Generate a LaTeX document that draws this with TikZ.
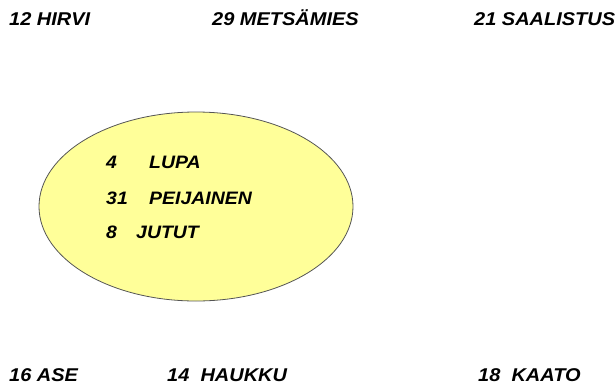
\documentclass[tikz,border=0pt]{standalone}
\usepackage{fontspec}
\setmainfont{Liberation Sans}[FakeStretch=1.08]
\usetikzlibrary{shapes.geometric}
\definecolor{ellfill}{HTML}{FFFF99}
\definecolor{ellline}{HTML}{555555}
\tikzset{
  outer/.style={anchor=base west,inner sep=0pt,font=\fontsize{18.5}{20}\selectfont\bfseries\itshape},
  inner/.style={anchor=base west,inner sep=0pt,font=\fontsize{18}{20}\selectfont\bfseries\itshape},
  blob/.style={ellipse,draw=ellline,line width=0.8pt,fill=ellfill,minimum width=314pt,minimum height=189pt,inner sep=0pt}
}
\begin{document}
\begin{tikzpicture}[x=1pt,y=-1pt]
\useasboundingbox (0,0) rectangle (616,386);
\node[blob] (ell) at (196,206.5) {};
\node[outer] (hirvi) at (9,25) {12 HIRVI};
\node[outer] (mets) at (212,25) {29 METSÄMIES};
\node[outer] (saal) at (474,25) {21 SAALISTUS};
\node[outer] (ase) at (9,381) {16 ASE};
\node[outer] (hauk) at (167,381) {14\ \ HAUKKU};
\node[outer] (kaato) at (478,381) {18\ \ KAATO};
\node[inner] (n4) at (106,168) {4};
\node[inner] (lupa) at (149,168) {LUPA};
\node[inner] (n31) at (106,204) {31};
\node[inner] (peij) at (149,204) {PEIJAINEN};
\node[inner] (n8) at (106,238) {8};
\node[inner] (jutut) at (136,238) {JUTUT};
\end{tikzpicture}
\end{document}
